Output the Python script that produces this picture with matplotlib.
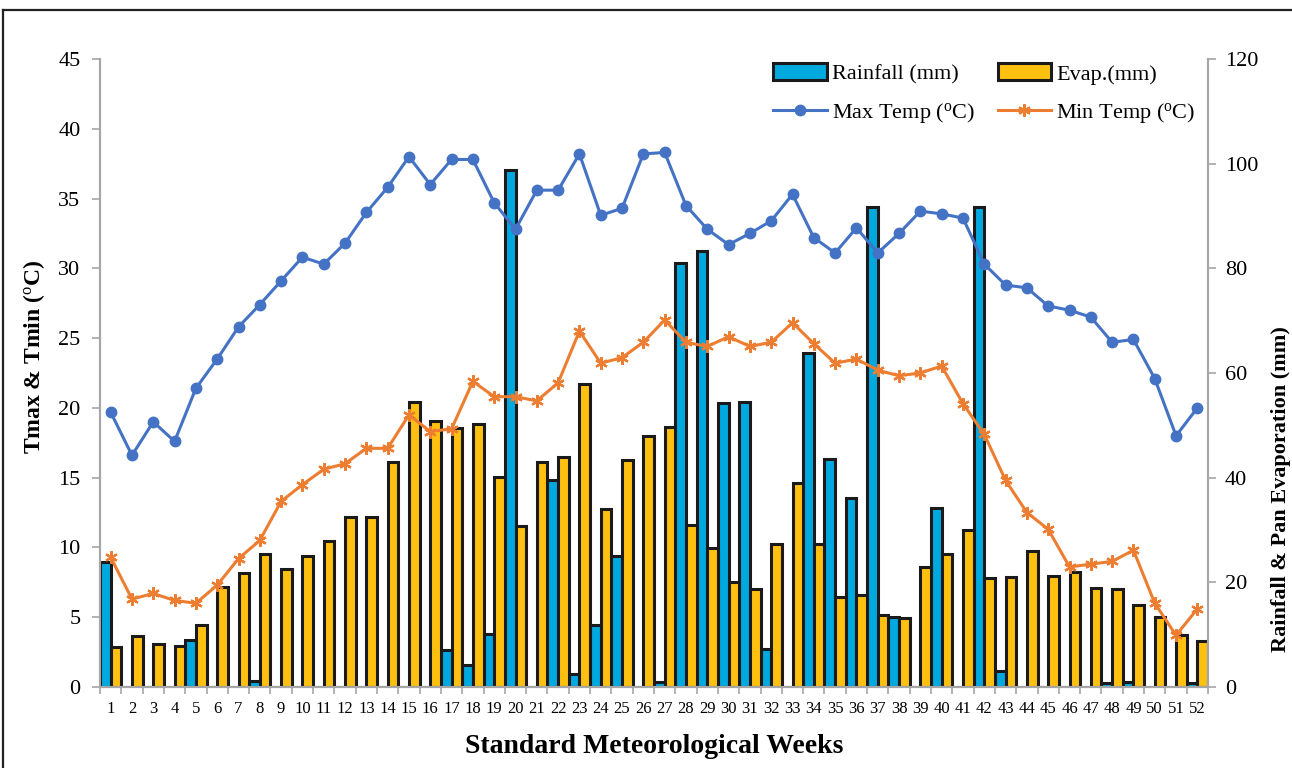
import numpy as np
import matplotlib
matplotlib.use("Agg")
import matplotlib.pyplot as plt
from matplotlib.lines import Line2D

plt.rcParams['font.family'] = ['Liberation Serif', 'DejaVu Serif']
plt.rcParams['mathtext.fontset'] = 'custom'
plt.rcParams['mathtext.rm'] = 'Liberation Serif'
plt.rcParams['mathtext.it'] = 'Liberation Serif:italic'

weeks = list(range(1, 53))

rainfall = [23.8, 0, 0, 0, 8.9, 0, 0, 1.2, 0, 0, 0, 0, 0, 0, 0, 0,
            7.0, 4.2, 10.2, 98.8, 0, 39.5, 2.4, 11.9, 25.0, 0, 1.0, 81.1,
            83.3, 54.2, 54.4, 7.2, 0, 63.8, 43.6, 36.1, 91.8, 13.4, 0, 34.2,
            0, 91.8, 3.0, 0, 0, 0, 0, 0.8, 1.0, 0, 0, 0.8]

evap = [7.6, 9.7, 8.3, 7.9, 11.8, 19.1, 21.8, 25.4, 22.5, 25.0, 27.8, 32.4,
        32.4, 42.9, 54.4, 50.9, 49.5, 50.2, 40.2, 30.8, 42.9, 43.9, 57.9, 34.0,
        43.4, 47.9, 49.7, 31.0, 26.6, 20.1, 18.8, 27.3, 38.9, 27.4, 17.1, 17.5,
        13.8, 13.2, 23.0, 25.5, 30.0, 20.9, 21.1, 25.9, 21.3, 21.9, 18.9, 18.7,
        15.7, 13.4, 9.9, 8.7]

tmax = [19.7, 16.6, 19.0, 17.6, 21.4, 23.5, 25.8, 27.4, 29.1, 30.8, 30.3, 31.8,
        34.0, 35.8, 38.0, 36.0, 37.8, 37.8, 34.7, 32.8, 35.6, 35.6, 38.2, 33.8,
        34.3, 38.2, 38.3, 34.5, 32.8, 31.7, 32.5, 33.4, 35.3, 32.2, 31.1, 32.9,
        31.1, 32.5, 34.1, 33.9, 33.6, 30.3, 28.8, 28.6, 27.3, 27.0, 26.5, 24.7,
        24.9, 22.1, 18.0, 20.0]

tmin = [9.3, 6.3, 6.7, 6.2, 6.0, 7.3, 9.2, 10.5, 13.3, 14.5, 15.6, 16.0,
        17.1, 17.1, 19.5, 18.3, 18.5, 21.9, 20.8, 20.8, 20.5, 21.8, 25.5, 23.2,
        23.6, 24.7, 26.3, 24.7, 24.4, 25.1, 24.4, 24.7, 26.1, 24.6, 23.2, 23.5,
        22.7, 22.3, 22.5, 23.0, 20.3, 18.1, 14.8, 12.5, 11.3, 8.6, 8.8, 9.0,
        9.8, 6.0, 3.7, 5.6]

blue_bar = '#00A8E0'
gold_bar = '#FFC00F'
line_blue = '#4472C4'
line_orange = '#ED7D31'
axis_grey = '#A6A6A6'

fig = plt.figure(figsize=(12.92, 7.68), dpi=100)
ax = fig.add_axes([0.0774, 0.1055, 0.8576, 0.8177])
ax2 = ax.twinx()

x = np.array(weeks)

# bars on the right axis, lines on the left; keep lines in front
ax.set_zorder(ax2.get_zorder() + 1)
ax.patch.set_visible(False)

ax2.bar(x - 0.25, rainfall, width=0.5, color=blue_bar, edgecolor='#1a1a1a',
        linewidth=2.2, label='Rainfall (mm)')
ax2.bar(x + 0.25, evap, width=0.5, color=gold_bar, edgecolor='#1a1a1a',
        linewidth=2.2, label='Evap.(mm)')

ax.plot(x, tmax, color=line_blue, lw=2.2, marker='o', ms=7.5,
        label='Max Temp ($^{\\rm o}$C)')
ax.plot(x, tmin, color=line_orange, lw=2.2, marker=(6, 2, 0), ms=9,
        mew=1.6, label='Min Temp ($^{\\rm o}$C)')

ax.set_xlim(0.5, 52.5)
ax.set_ylim(0, 45)
ax2.set_ylim(0, 120)
ax.set_yticks(np.arange(0, 46, 5))
ax2.set_yticks(np.arange(0, 121, 20))

ax.set_xticks(x)
ax.set_xticklabels([str(w) for w in weeks], fontsize=12)
ax.set_xticks(np.arange(0.5, 53, 1), minor=True)
ax.tick_params(axis='x', which='major', length=0, pad=10)
ax.tick_params(axis='x', which='minor', length=5, color=axis_grey, width=1.2)
ax.tick_params(axis='y', length=6, color=axis_grey, width=1.2, labelsize=16, pad=8)
ax2.tick_params(axis='y', length=6, color=axis_grey, width=1.2, labelsize=16, pad=6)
ax2.tick_params(axis='x', length=0)

for a in (ax, ax2):
    a.spines['top'].set_visible(False)
    for s in ('left', 'right', 'bottom'):
        a.spines[s].set_color(axis_grey)
        a.spines[s].set_linewidth(1.5)

ax.set_ylabel('Tmax & Tmin ($^{\\rm o}$C)', fontsize=17, fontweight='bold')
ax.yaxis.set_label_coords(-0.048, 0.525)
ax2.set_ylabel('Rainfall & Pan Evaporation (mm)', fontsize=16, fontweight='bold')
ax2.yaxis.set_label_coords(1.057, 0.315)
ax.set_xlabel('Standard Meteorological Weeks', fontsize=20, fontweight='bold', labelpad=12)

# legend rows: bars on the first row, lines on the second
bars_h, bars_l = ax2.get_legend_handles_labels()
line_h, line_l = ax.get_legend_handles_labels()
handles = [bars_h[0], line_h[0], bars_h[1], line_h[1]]
labels = [bars_l[0], line_l[0], bars_l[1], line_l[1]]
ax.legend(handles, labels, ncol=2, loc='upper right', bbox_to_anchor=(1.007, 1.025),
          frameon=False, fontsize=16, handlelength=2.4, handleheight=0.8,
          columnspacing=1.0, handletextpad=0.25, labelspacing=0.75)

# outer frame (only top and left edges fall inside the image)
fig.add_artist(Line2D([0.0025, 1.0], [0.987, 0.987], transform=fig.transFigure,
                      color='#222222', lw=1.6))
fig.add_artist(Line2D([0.0025, 0.0025], [0.0, 0.987], transform=fig.transFigure,
                      color='#222222', lw=1.6))

fig.savefig('out.png', dpi=100)
